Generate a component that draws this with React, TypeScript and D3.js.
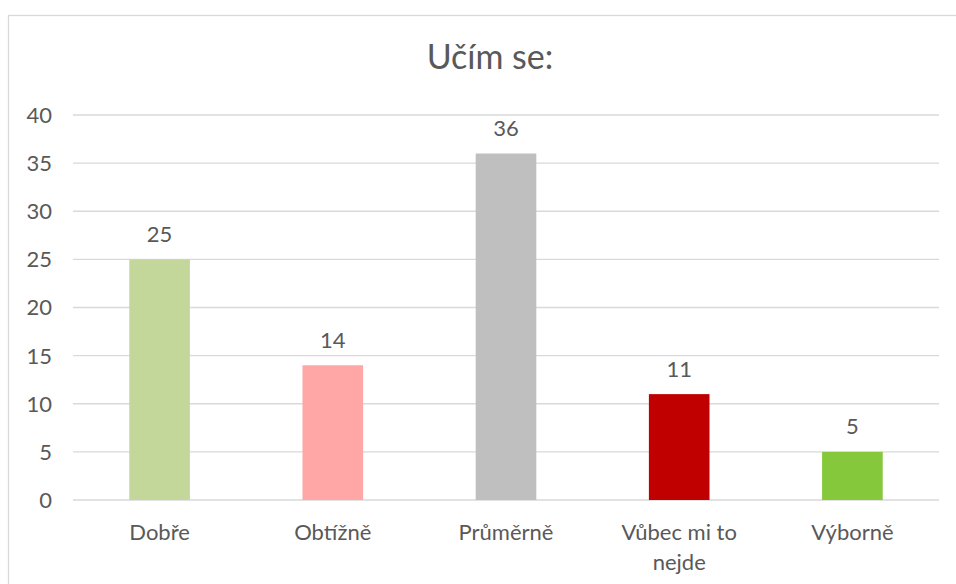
import React from "react";
import * as d3 from "d3";

const title = "Učím se:";
const categories = ["Dobře", "Obtížně", "Průměrně", "Vůbec mi to nejde", "Výborně"];
const values = [25, 14, 36, 11, 5];
const barColors = ["#C4D79B", "#FFA6A6", "#BFBFBF", "#C00000", "#85C83B"];
const yTicks = [0, 5, 10, 15, 20, 25, 30, 35, 40];

const W = 956;
const H = 584;
const FONT = "Lato, 'Open Sans', sans-serif";
const TEXT = "#595959";
const GRID = "#D9D9D9";

function wrap(label: string, maxChars: number): string[] {
  const words = label.split(" ");
  const lines: string[] = [];
  let cur = "";
  for (const w of words) {
    const next = cur ? cur + " " + w : w;
    if (next.length > maxChars && cur) {
      lines.push(cur);
      cur = w;
    } else cur = next;
  }
  if (cur) lines.push(cur);
  return lines;
}

export default function App() {
  const x = d3
    .scaleBand<string>()
    .domain(categories)
    .range([73, 939])
    .paddingInner(0.65)
    .paddingOuter(0.325);
  const y = d3.scaleLinear().domain([0, 40]).range([500, 115]);

  return (
    <div style={{ position: "absolute", left: 0, top: 0 }}>
      <svg width={W} height={H} style={{ display: "block", background: "#fff" }}>
        <rect x={8.5} y={15.5} width={1000} height={1000} fill="#fff" stroke={GRID} strokeWidth={1.3} />
        <text x={490} y={69} textAnchor="middle" fontFamily={FONT} fontSize={34} fill={TEXT}>
          {title}
        </text>
        {yTicks.map((t) => (
          <g key={t}>
            <line x1={73} x2={939} y1={y(t)} y2={y(t)} stroke={GRID} strokeWidth={1.3} />
            <text
              x={52}
              y={y(t)}
              dy="0.36em"
              textAnchor="end"
              fontFamily={FONT}
              fontSize={22}
              fill={TEXT}
            >
              {t}
            </text>
          </g>
        ))}
        {categories.map((c, i) => {
          const bx = x(c)!;
          const bw = x.bandwidth();
          const cx = bx + bw / 2;
          const lines = wrap(c, 11);
          return (
            <g key={c}>
              <rect x={bx} y={y(values[i])} width={bw} height={y(0) - y(values[i])} fill={barColors[i]} />
              <text
                x={cx}
                y={y(values[i]) - 17.5}
                textAnchor="middle"
                fontFamily={FONT}
                fontSize={22}
                fill={TEXT}
              >
                {values[i]}
              </text>
              <text textAnchor="middle" fontFamily={FONT} fontSize={22} fill={TEXT}>
                {lines.map((l, k) => (
                  <tspan key={k} x={cx} y={540 + k * 30}>
                    {l}
                  </tspan>
                ))}
              </text>
            </g>
          );
        })}
      </svg>
    </div>
  );
}
